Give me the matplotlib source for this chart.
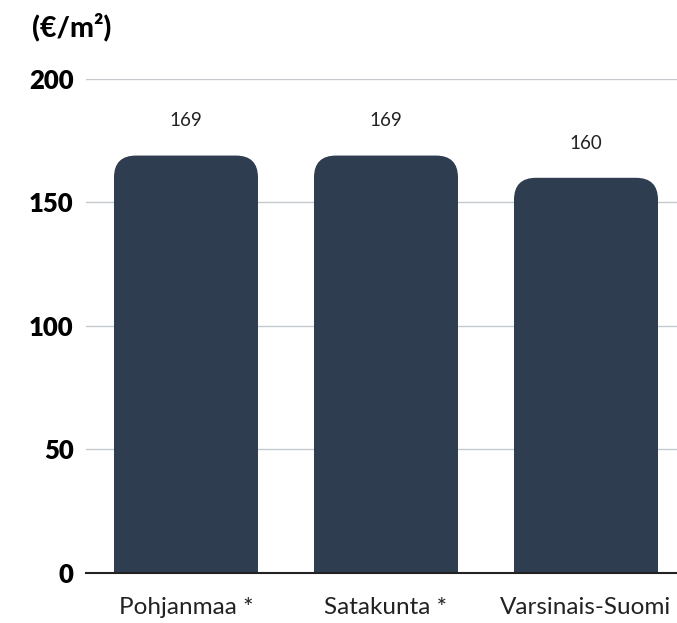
import matplotlib.pyplot as plt
from matplotlib.patches import FancyBboxPatch

regions = ['Pohjanmaa *', 'Satakunta *', 'Varsinais-Suomi']
prices = [169, 169, 160]
y_ticks = [0, 50, 100, 150, 200]

bar_color = '#2e3d4f'
grid_color = '#c6cacf'

plt.rcParams['font.family'] = ['Lato', 'DejaVu Sans']

fig = plt.figure(figsize=(6.77, 6.23), dpi=100)
ax = fig.add_axes([0.127, 0.0803, 0.873, 0.7929])

ax.set_xlim(-0.5, 2.455)
ax.set_ylim(0, 200)

width = 0.72
radius = 0.11
# ratio of y data units to x data units for the same pixel length
aspect = (200 / 494) / (1 / 200)

for i, v in enumerate(prices):
    box = FancyBboxPatch((i - width / 2, -30), width, v + 30,
                         boxstyle='round,pad=0,rounding_size=%f' % radius,
                         mutation_aspect=aspect, facecolor=bar_color,
                         edgecolor='none', zorder=2)
    ax.add_patch(box)
    ax.annotate(str(v), (i, v), xytext=(0, 25), textcoords='offset points',
                ha='center', va='center', fontsize=13.5, color='#222222')

ax.set_yticks(y_ticks)
ax.set_yticklabels([str(t) for t in y_ticks], fontsize=18.5, fontweight='heavy')
ax.set_xticks(range(len(regions)))
ax.set_xticklabels(regions, fontsize=17.5, color='#222222')
ax.tick_params(axis='both', length=0)
ax.tick_params(axis='y', pad=9)
ax.tick_params(axis='x', pad=17)

ax.grid(axis='y', color=grid_color, linewidth=1, zorder=0)
ax.axhline(0, color='#222222', linewidth=1.5, zorder=3, clip_on=False)
for s in ax.spines.values():
    s.set_visible(False)

fig.text(0.048, 0.956, '(€/m²)', fontsize=20.5, fontweight='black',
         ha='left', va='center')

fig.savefig('out.png', dpi=100)
